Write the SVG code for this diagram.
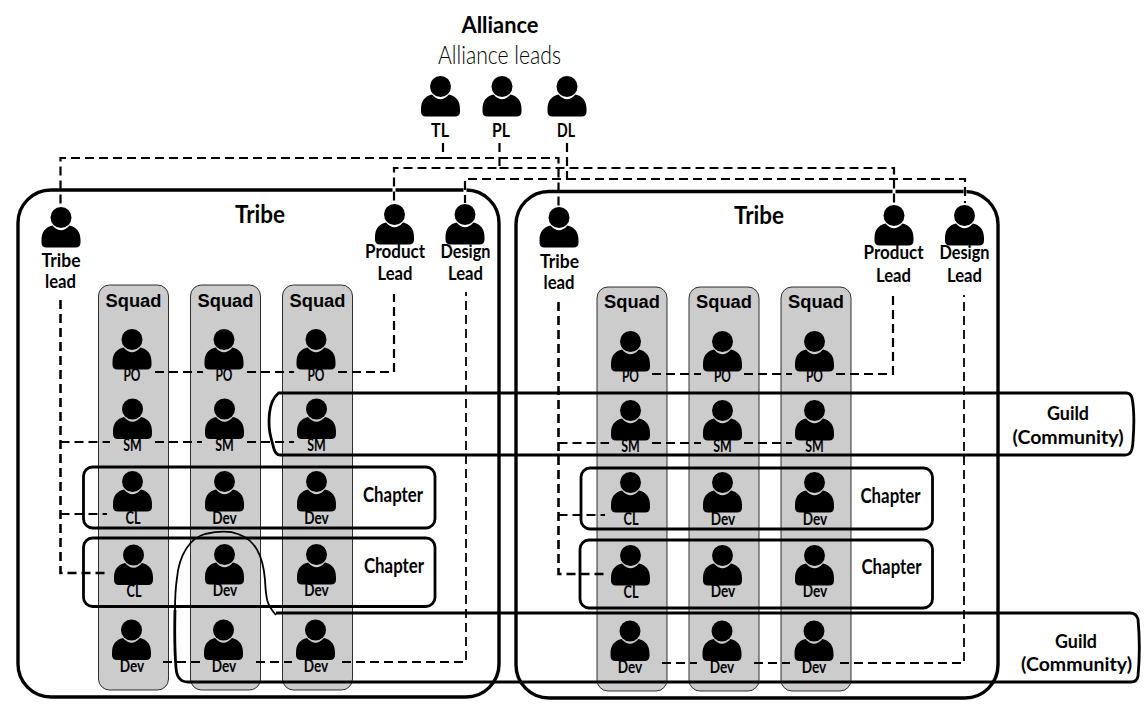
<svg xmlns="http://www.w3.org/2000/svg" xmlns:xlink="http://www.w3.org/1999/xlink" width="1146" height="726" viewBox="0 0 1146 726">
<style>
text{font-family:"Lato","Noto Sans","Liberation Sans",sans-serif;font-weight:700;text-anchor:middle;fill:#000}
.t{font-size:25px}.h{font-size:19.500px}.s{font-size:16.500px;font-weight:700}.c{font-size:20px}
.q{font-family:"Liberation Sans",Arial,sans-serif;font-size:18.3px}
.l{font-weight:300;font-size:26px}
.tribe,.box,.guild{fill:none;stroke:#000}
.tribe{stroke-width:3.4}.box{stroke-width:2.8}.guild{stroke-width:2.8}.thin{stroke-width:1.8}
.squad{fill:#ccc;stroke:#000;stroke-width:.8}
.d{fill:none;stroke:#000;stroke-width:2.200;stroke-dasharray:9 5}
.dh{stroke-width:2.600}.dt{stroke-width:1.800}
.halo{fill:none;stroke:#fff;stroke-width:3}
</style>
<defs>
<g id="p">
<circle cx="0" cy="10.500" r="10.500"/>
<path d="M-8.500 18.500Q0 28 8.500 18.500C15.500 20 19.500 25 19.500 33V35.500Q19.500 40.500 14.500 40.500H-14.500Q-19.500 40.500-19.500 35.500V33C-19.500 25-15.500 20-8.500 18.500Z"/>
</g>
</defs>
<rect width="1146" height="726" fill="#fff"/>
<g id="tribe-1"><rect class="tribe" x="18" y="190" width="481" height="507" rx="33" ry="33"/><text class="t" x="260" y="223" textLength="50" lengthAdjust="spacingAndGlyphs">Tribe</text></g>
<g id="tribe-2"><rect class="tribe" x="516" y="191.500" width="482" height="506.500" rx="33" ry="33"/><text class="t" x="759" y="224" textLength="50" lengthAdjust="spacingAndGlyphs">Tribe</text></g>
<g id="squad-1"><rect class="squad" x="98.500" y="285" width="70" height="405" rx="11"/><text class="q" x="133.500" y="307">Squad</text></g>
<g id="squad-2"><rect class="squad" x="190.500" y="285" width="70" height="405" rx="11"/><text class="q" x="225.500" y="307">Squad</text></g>
<g id="squad-3"><rect class="squad" x="282.500" y="285" width="70" height="405" rx="11"/><text class="q" x="317.500" y="307">Squad</text></g>
<g id="squad-4"><rect class="squad" x="597" y="287" width="70" height="404" rx="11"/><text class="q" x="632" y="308">Squad</text></g>
<g id="squad-5"><rect class="squad" x="689" y="287" width="70" height="404" rx="11"/><text class="q" x="724" y="308">Squad</text></g>
<g id="squad-6"><rect class="squad" x="781" y="287" width="70" height="404" rx="11"/><text class="q" x="816" y="308">Squad</text></g>
<g id="connectors">
<path class="halo" d="M394 186V194M465 186V194M894 188V196M965 188V196M84 571V576M581 572V577"/>
<path class="d" d="M443 143V158H60.500V205"/>
<path class="d" d="M443 158H558.500V206"/>
<path class="d" d="M499.500 143V168H394V204"/>
<path class="d" d="M499.500 168H894V204"/>
<path class="d" d="M567 143V179H465V203"/>
<path class="d" d="M567 179H965V203"/>
<path class="d dh" d="M60.500 300V573H107"/>
<path class="d dh" d="M558.500 302V574H604"/>
<path class="d" d="M60.500 442H110M155 442H202M247 442H294"/>
<path class="d" d="M60.500 514H107"/>
<path class="d" d="M558.500 443H609M652 443H701M744 443H792"/>
<path class="d" d="M558.500 515H605"/>
<path class="d" d="M155 372H203M247 372H294M338 372H394V294"/>
<path class="d" d="M652 374H701M744 374H792M836 374H893V296"/>
<path class="d dt" d="M163 662H200M256 662H292M342 662H466V292"/>
<path class="d dt" d="M662 663H697M754 663H790M840 663H964V295"/>
</g>
<g id="alliance"><text x="500" y="33" style="font-size:23px" textLength="77" lengthAdjust="spacingAndGlyphs">Alliance</text><text class="l" x="499.500" y="64" textLength="123" lengthAdjust="spacingAndGlyphs">Alliance leads</text></g>
<g id="tl"><use xlink:href="#p" href="#p" x="440.500" y="76"/><text class="h" x="440" y="137" textLength="18" lengthAdjust="spacingAndGlyphs">TL</text></g>
<g id="pl"><use href="#p" x="502" y="76"/><text class="h" x="501" y="137" textLength="18" lengthAdjust="spacingAndGlyphs">PL</text></g>
<g id="dl"><use href="#p" x="567" y="76"/><text class="h" x="566" y="137" textLength="18" lengthAdjust="spacingAndGlyphs">DL</text></g>
<g id="tribe-lead-1"><use href="#p" x="61" y="207"/><text class="h" x="61" y="267" textLength="39" lengthAdjust="spacingAndGlyphs">Tribe</text><text class="h" x="60.500" y="288" textLength="31" lengthAdjust="spacingAndGlyphs">lead</text></g>
<g id="product-lead-1"><use href="#p" x="394.500" y="204"/><text class="h" x="395" y="258" textLength="60" lengthAdjust="spacingAndGlyphs">Product</text><text class="h" x="395" y="280" textLength="35" lengthAdjust="spacingAndGlyphs">Lead</text></g>
<g id="design-lead-1"><use href="#p" x="465" y="204"/><text class="h" x="465.500" y="258" textLength="50" lengthAdjust="spacingAndGlyphs">Design</text><text class="h" x="465.500" y="280" textLength="35" lengthAdjust="spacingAndGlyphs">Lead</text></g>
<g id="tribe-lead-2"><use href="#p" x="559" y="207"/><text class="h" x="559.500" y="268" textLength="39" lengthAdjust="spacingAndGlyphs">Tribe</text><text class="h" x="559" y="289" textLength="31" lengthAdjust="spacingAndGlyphs">lead</text></g>
<g id="product-lead-2"><use href="#p" x="894" y="205"/><text class="h" x="893.500" y="259" textLength="60" lengthAdjust="spacingAndGlyphs">Product</text><text class="h" x="893.500" y="282" textLength="35" lengthAdjust="spacingAndGlyphs">Lead</text></g>
<g id="design-lead-2"><use href="#p" x="964.500" y="205"/><text class="h" x="964.500" y="259" textLength="50" lengthAdjust="spacingAndGlyphs">Design</text><text class="h" x="964.500" y="282" textLength="35" lengthAdjust="spacingAndGlyphs">Lead</text></g>

<g id="po-1"><use href="#p" x="132" y="329"/><text class="s" x="132" y="381" textLength="17" lengthAdjust="spacingAndGlyphs">PO</text></g>
<g id="po-2"><use href="#p" x="224" y="329"/><text class="s" x="224" y="381" textLength="17" lengthAdjust="spacingAndGlyphs">PO</text></g>
<g id="po-3"><use href="#p" x="316" y="329"/><text class="s" x="316" y="381" textLength="17" lengthAdjust="spacingAndGlyphs">PO</text></g>
<g id="sm-1"><use href="#p" x="132.500" y="398.500"/><text class="s" x="132.500" y="451" textLength="18.500" lengthAdjust="spacingAndGlyphs">SM</text></g>
<g id="sm-2"><use href="#p" x="224.500" y="398.500"/><text class="s" x="224.500" y="451" textLength="18.500" lengthAdjust="spacingAndGlyphs">SM</text></g>
<g id="sm-3"><use href="#p" x="316.500" y="398.500"/><text class="s" x="316.500" y="451" textLength="18.500" lengthAdjust="spacingAndGlyphs">SM</text></g>
<g id="cl-1"><use href="#p" x="132.500" y="471"/><text class="s" x="133" y="524" textLength="15" lengthAdjust="spacingAndGlyphs">CL</text></g>
<g id="dev-1"><use href="#p" x="224.500" y="471"/><text class="s" x="224.500" y="524" textLength="24.500" lengthAdjust="spacingAndGlyphs">Dev</text></g>
<g id="dev-2"><use href="#p" x="316.500" y="471"/><text class="s" x="316.500" y="524" textLength="24.500" lengthAdjust="spacingAndGlyphs">Dev</text></g>
<g id="cl-2"><use href="#p" x="133.500" y="544.500"/><text class="s" x="134" y="597" textLength="15" lengthAdjust="spacingAndGlyphs">CL</text></g>
<g id="dev-3"><use href="#p" x="224.500" y="544"/><text class="s" x="225" y="596" textLength="24.500" lengthAdjust="spacingAndGlyphs">Dev</text></g>
<g id="dev-4"><use href="#p" x="316.500" y="544"/><text class="s" x="316.500" y="596" textLength="24.500" lengthAdjust="spacingAndGlyphs">Dev</text></g>
<g id="dev-5"><use href="#p" x="131.500" y="619.500"/><text class="s" x="132" y="672" textLength="24.500" lengthAdjust="spacingAndGlyphs">Dev</text></g>
<g id="dev-6"><use href="#p" x="223.500" y="619.500"/><text class="s" x="224" y="672" textLength="24.500" lengthAdjust="spacingAndGlyphs">Dev</text></g>
<g id="dev-7"><use href="#p" x="315.500" y="619.500"/><text class="s" x="316" y="672" textLength="24.500" lengthAdjust="spacingAndGlyphs">Dev</text></g>

<g id="po-4"><use href="#p" x="630.500" y="331"/><text class="s" x="630.500" y="382" textLength="17" lengthAdjust="spacingAndGlyphs">PO</text></g>
<g id="po-5"><use href="#p" x="722.500" y="331"/><text class="s" x="722.500" y="382" textLength="17" lengthAdjust="spacingAndGlyphs">PO</text></g>
<g id="po-6"><use href="#p" x="814.500" y="331"/><text class="s" x="814.500" y="382" textLength="17" lengthAdjust="spacingAndGlyphs">PO</text></g>
<g id="sm-4"><use href="#p" x="630.500" y="400"/><text class="s" x="630.500" y="452" textLength="18.500" lengthAdjust="spacingAndGlyphs">SM</text></g>
<g id="sm-5"><use href="#p" x="722.500" y="400"/><text class="s" x="722.500" y="452" textLength="18.500" lengthAdjust="spacingAndGlyphs">SM</text></g>
<g id="sm-6"><use href="#p" x="814.500" y="400"/><text class="s" x="814.500" y="452" textLength="18.500" lengthAdjust="spacingAndGlyphs">SM</text></g>
<g id="cl-3"><use href="#p" x="630.500" y="472"/><text class="s" x="631" y="525" textLength="15" lengthAdjust="spacingAndGlyphs">CL</text></g>
<g id="dev-8"><use href="#p" x="722.500" y="472"/><text class="s" x="723" y="525" textLength="24.500" lengthAdjust="spacingAndGlyphs">Dev</text></g>
<g id="dev-9"><use href="#p" x="814.500" y="472"/><text class="s" x="815" y="525" textLength="24.500" lengthAdjust="spacingAndGlyphs">Dev</text></g>
<g id="cl-4"><use href="#p" x="630.500" y="545"/><text class="s" x="631" y="598" textLength="15" lengthAdjust="spacingAndGlyphs">CL</text></g>
<g id="dev-10"><use href="#p" x="722.500" y="545"/><text class="s" x="723" y="597" textLength="24.500" lengthAdjust="spacingAndGlyphs">Dev</text></g>
<g id="dev-11"><use href="#p" x="814.500" y="545"/><text class="s" x="815" y="597" textLength="24.500" lengthAdjust="spacingAndGlyphs">Dev</text></g>
<g id="dev-12"><use href="#p" x="630" y="620.500"/><text class="s" x="630" y="673" textLength="24.500" lengthAdjust="spacingAndGlyphs">Dev</text></g>
<g id="dev-13"><use href="#p" x="722" y="620.500"/><text class="s" x="722" y="673" textLength="24.500" lengthAdjust="spacingAndGlyphs">Dev</text></g>
<g id="dev-14"><use href="#p" x="814" y="620.500"/><text class="s" x="814" y="673" textLength="24.500" lengthAdjust="spacingAndGlyphs">Dev</text></g>

<g id="chapter-1"><rect class="box" x="83.500" y="467" width="351.500" height="61" rx="9"/><text class="c" x="393" y="502" textLength="60" lengthAdjust="spacingAndGlyphs">Chapter</text></g>
<g id="chapter-2"><rect class="box" x="83.500" y="538" width="351.500" height="68.500" rx="9"/><text class="c" x="394" y="573" textLength="60" lengthAdjust="spacingAndGlyphs">Chapter</text></g>
<g id="chapter-3"><rect class="box" x="581" y="468" width="351.500" height="61" rx="9"/><text class="c" x="890.500" y="503" textLength="60" lengthAdjust="spacingAndGlyphs">Chapter</text></g>
<g id="chapter-4"><rect class="box" x="580" y="540" width="352.500" height="68" rx="9"/><text class="c" x="891.500" y="574" textLength="60" lengthAdjust="spacingAndGlyphs">Chapter</text></g>
<g id="guild-1"><path class="guild" d="M278.500 393H1126Q1131 393 1132 398C1134 408 1134 428 1133 441C1132.500 450 1131 455 1125 455H280Q276 455 274 449C270 435 268 428 269.500 413C270.500 403 274 397 278.500 393Z"/><text class="h" x="1068" y="420" textLength="42" lengthAdjust="spacingAndGlyphs">Guild</text><text class="h" x="1068" y="444" textLength="111" lengthAdjust="spacingAndGlyphs">(Community)</text></g>
<g id="guild-2"><path class="guild" d="M276 613H1130Q1136 613 1138 619C1139.500 635 1139.500 660 1138 676Q1137 682 1131 682H188Q177 682 176 668C175 655 174.500 630 175 610"/><path class="guild thin" d="M175 610C175 600 175.500 588 177 578C179 555 190 538 205 534C218 531 228 530 238 534C255 540 263 555 265 580C266 600 267 605 276 615"/><text class="h" x="1076" y="648" textLength="42" lengthAdjust="spacingAndGlyphs">Guild</text><text class="h" x="1076.500" y="671" textLength="111" lengthAdjust="spacingAndGlyphs">(Community)</text></g>
</svg>
